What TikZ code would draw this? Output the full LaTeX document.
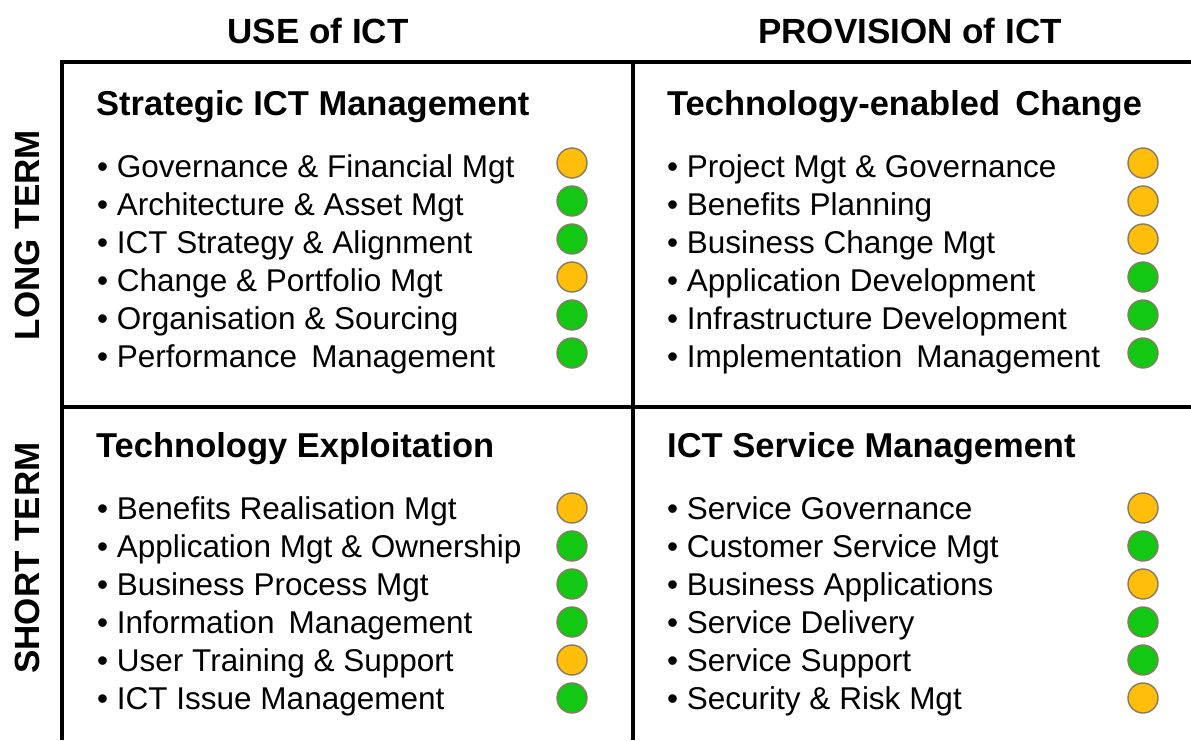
\documentclass[tikz,border=0pt]{standalone}
\usepackage{fontspec}
\setmainfont{Liberation Sans}
\begin{document}
\begin{tikzpicture}[x=1pt,y=-1pt,
  grid/.style={line width=4pt, black},
  colhead/.style={font=\fontsize{35}{42}\selectfont\bfseries, inner sep=0pt, anchor=base},
  rowhead/.style={font=\fontsize{35}{42}\selectfont\bfseries, inner sep=0pt, rotate=90, anchor=center},
  quadhead/.style={font=\fontsize{34.5}{42}\selectfont\bfseries, inner sep=0pt, anchor=base west},
  item/.style={font=\fontsize{31.5}{38}\selectfont, inner sep=0pt, anchor=base west},
  dot/.style={circle, draw=lampedge, line width=1.4pt, minimum size=30pt, inner sep=0pt}]
\definecolor{amber}{RGB}{255,190,10}
\definecolor{lampgreen}{RGB}{18,200,18}
\definecolor{lampedge}{RGB}{135,122,100}
\useasboundingbox (0,0) rectangle (1191,740);

% grid lines
\coordinate (tl) at (60,62);
\coordinate (tr) at (1191,62);
\coordinate (lt) at (62,60);
\coordinate (lb) at (62,740);
\coordinate (mt) at (633,62);
\coordinate (mb) at (633,740);
\coordinate (hl) at (62,407);
\coordinate (hr) at (1191,407);
\draw[grid] (tl) -- (tr);
\draw[grid] (lt) -- (lb);
\draw[grid] (mt) -- (mb);
\draw[grid] (hl) -- (hr);

% column and row headings
\node[colhead] (use) at (318,43) {USE of ICT};
\node[colhead] (prov) at (910,43) {PROVISION of ICT};
\node[rowhead] (long) at (27,235) {LONG TERM};
\node[rowhead] (short) at (27,558) {SHORT TERM};

% quadrant headings
\node[quadhead] (q1) at (96,115) {Strategic ICT Management};
\node[quadhead] (q2) at (667,115) {Technology-enabled\, Change};
\node[quadhead] (q3) at (96,457) {Technology Exploitation};
\node[quadhead] (q4) at (667,457) {ICT Service Management};

% strategic ICT management
\foreach \t/\c [count=\i] in {Governance \& Financial Mgt/amber,
  Architecture \& Asset Mgt/lampgreen,
  ICT Strategy \& Alignment/lampgreen,
  Change \& Portfolio Mgt/amber,
  Organisation \& Sourcing/lampgreen,
  Performance\, Management/lampgreen} {
  \node[item] (a\i) at (97,139+38*\i) {• \t};
  \node[dot, fill=\c] (ad\i) at (572,125+38*\i) {};
}

% technology-enabled change
\foreach \t/\c [count=\i] in {Project Mgt \& Governance/amber,
  Benefits Planning/amber,
  Business Change Mgt/amber,
  Application Development/lampgreen,
  Infrastructure Development/lampgreen,
  Implementation\, Management/lampgreen} {
  \node[item] (b\i) at (667,139+38*\i) {• \t};
  \node[dot, fill=\c] (bd\i) at (1143,125+38*\i) {};
}

% technology exploitation
\foreach \t/\c [count=\i] in {Benefits Realisation Mgt/amber,
  Application Mgt \& Ownership/lampgreen,
  Business Process Mgt/lampgreen,
  Information\, Management/lampgreen,
  User Training \& Support/amber,
  ICT Issue Management/lampgreen} {
  \node[item] (c\i) at (97,481+38*\i) {• \t};
  \node[dot, fill=\c] (cd\i) at (572,470+38*\i) {};
}

% ICT service management
\foreach \t/\c [count=\i] in {Service Governance/amber,
  Customer Service Mgt/lampgreen,
  Business Applications/amber,
  Service Delivery/lampgreen,
  Service Support/lampgreen,
  Security \& Risk Mgt/amber} {
  \node[item] (d\i) at (667,481+38*\i) {• \t};
  \node[dot, fill=\c] (dd\i) at (1143,470+38*\i) {};
}
\end{tikzpicture}
\end{document}
